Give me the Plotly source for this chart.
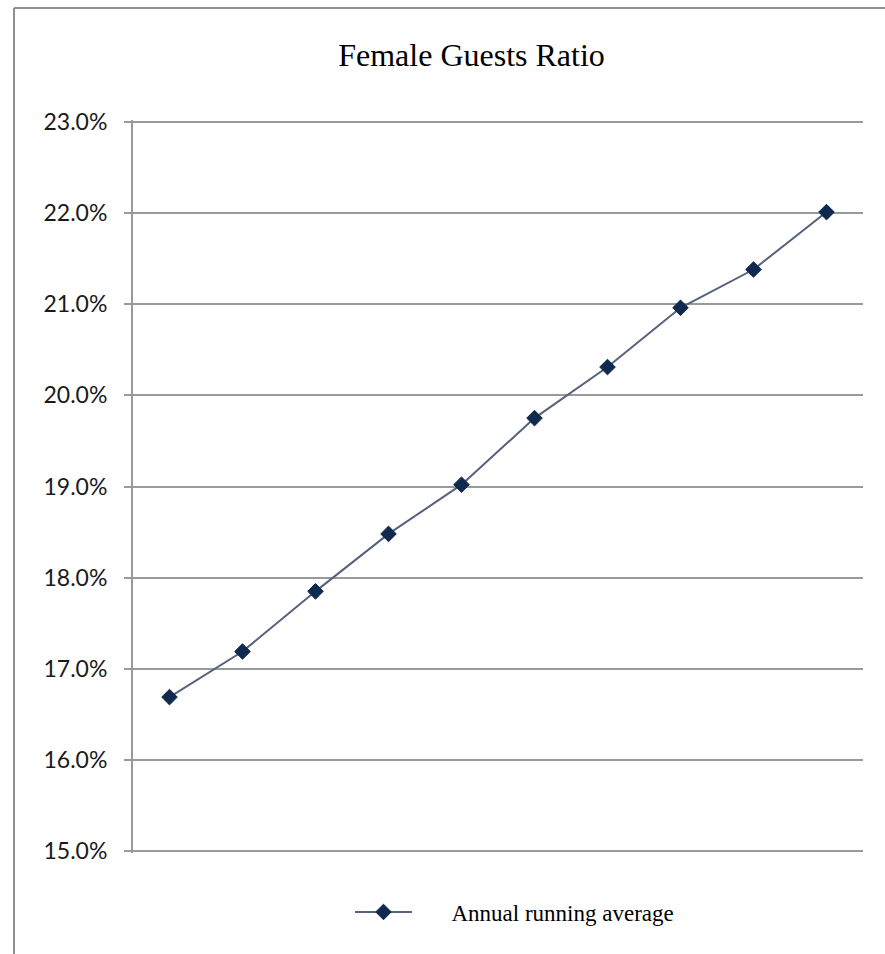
import plotly.graph_objects as go

# Female guest ratio, annual running average (one point per period)
periods = [1, 2, 3, 4, 5, 6, 7, 8, 9, 10]
female_ratio = [0.1669, 0.1719, 0.1785, 0.1848, 0.1902, 0.1975, 0.2031, 0.2096, 0.2138, 0.2201]
y_ticks = [0.15, 0.16, 0.17, 0.18, 0.19, 0.20, 0.21, 0.22, 0.23]

W, H = 885, 954
ML, MR, MT, MB = 133, 22, 120, 101
PW, PH = W - ML - MR, H - MT - MB


def px_x(px):
    return (px - ML) / PW


def px_y(py):
    return (H - MB - py) / PH


fig = go.Figure()
fig.add_trace(go.Scatter(
    x=periods,
    y=female_ratio,
    mode="lines+markers",
    name="\u00a0" * 6 + "Annual running average",
    line=dict(color="#56627a", width=2),
    marker=dict(symbol="diamond", size=12, color="#0f2a4e",
                line=dict(color="#0f2a4e", width=1)),
))

# outer chart frame (top and left edges)
frame = dict(color="#8f8f8f", width=2)
fig.add_shape(type="line", xref="paper", yref="paper",
              x0=px_x(14), x1=px_x(W + 5), y0=px_y(8), y1=px_y(8), line=frame)
fig.add_shape(type="line", xref="paper", yref="paper",
              x0=px_x(14), x1=px_x(14), y0=px_y(8), y1=px_y(H + 5), line=frame)

fig.update_layout(
    width=W, height=H,
    margin=dict(l=ML, r=MR, t=MT, b=MB),
    paper_bgcolor="#ffffff",
    plot_bgcolor="#ffffff",
    title=dict(text="Female Guests Ratio", x=471.5 / W, xanchor="center",
               y=1 - 55 / H, yanchor="middle", yref="container",
               font=dict(family="Liberation Serif", size=32, color="#000000")),
    showlegend=True,
    legend=dict(orientation="h", x=px_x(350), xanchor="left",
                y=px_y(912), yanchor="middle", itemwidth=57,
                font=dict(family="Liberation Serif", size=23, color="#000000"),
                bgcolor="rgba(255,255,255,0)"),
    xaxis=dict(range=[0.5, 10.5], showticklabels=False, showgrid=False,
               zeroline=False, showline=False, ticks=""),
    yaxis=dict(range=[0.1498, 0.2302], tickvals=y_ticks, tickformat=".1%",
               showgrid=True, gridcolor="#9a9a9a", gridwidth=2,
               zeroline=False, showline=True, linecolor="#9a9a9a", linewidth=2,
               ticks="outside", ticklen=7, tickcolor="#9a9a9a", tickwidth=2,
               ticklabelstandoff=12,
               tickfont=dict(family="Lato", size=23, color="#1a1a1a")),
)

fig.write_html("out.html")
